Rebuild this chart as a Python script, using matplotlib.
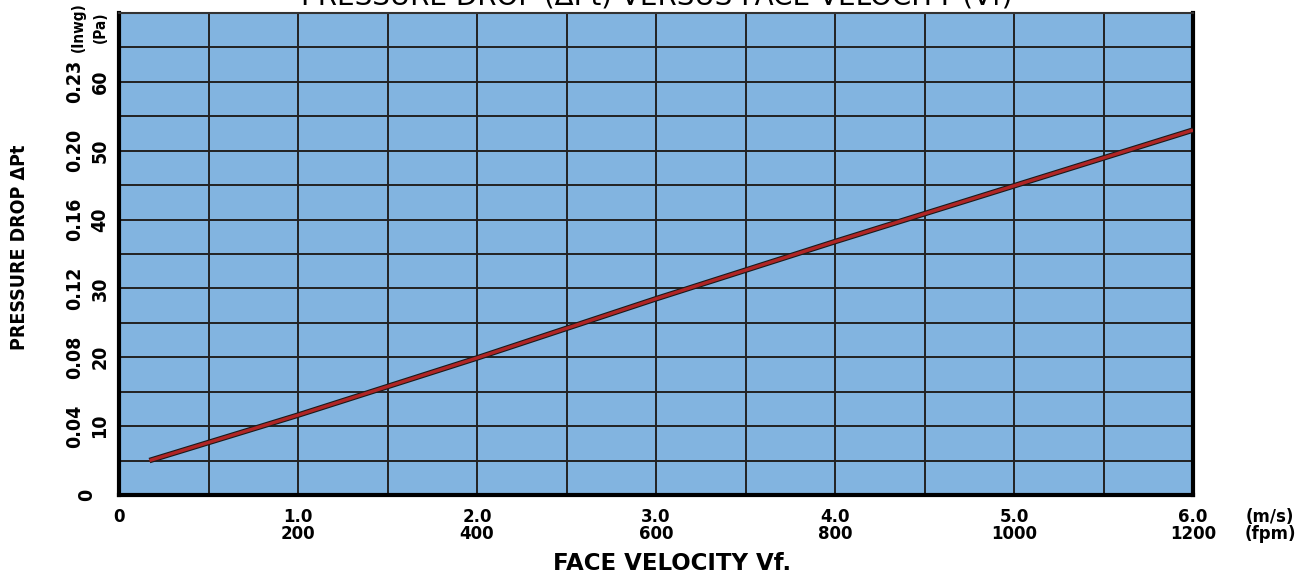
import numpy as np
import matplotlib
matplotlib.use("Agg")
import matplotlib.pyplot as plt
import matplotlib.patheffects as pe
import matplotlib.transforms as mtransforms

# datos
velocity_ms = [0.17, 1.0, 2.0, 3.0, 4.0, 5.0, 6.0]
pressure_pa = [5.0, 11.6, 19.9, 28.5, 36.8, 44.9, 53.0]

x_ticks_ms = [1.0, 2.0, 3.0, 4.0, 5.0, 6.0]
x_labels_ms = ["1.0", "2.0", "3.0", "4.0", "5.0", "6.0"]
x_labels_fpm = ["200", "400", "600", "800", "1000", "1200"]

y_ticks_pa = [10, 20, 30, 40, 50, 60]
y_labels_pa = ["10", "20", "30", "40", "50", "60"]
y_labels_inwg = ["0.04", "0.08", "0.12", "0.16", "0.20", "0.23"]

fig = plt.figure(figsize=(13.1, 5.72), dpi=100)
ax = fig.add_axes([119 / 1310, 1 - 495 / 572, (1193 - 119) / 1310, (495 - 13) / 572])
ax.set_facecolor("#82b4e0")

ax.set_xlim(0, 6)
ax.set_ylim(0, 70)
ax.set_xticks(np.arange(0, 6.01, 0.5))
ax.set_yticks(np.arange(0, 70.1, 5))
ax.tick_params(length=0, labelbottom=False, labelleft=False)
ax.grid(True, color="#222222", linewidth=1.4)
ax.set_axisbelow(True)

for s in ["left", "bottom", "right"]:
    ax.spines[s].set_linewidth(3)
    ax.spines[s].set_color("black")
ax.spines["top"].set_linewidth(1.5)
ax.spines["top"].set_color("#333333")

# linea de caida de presion
ax.plot(velocity_ms, pressure_pa, color="#b02525", linewidth=2.4,
        path_effects=[pe.Stroke(linewidth=4.0, foreground="#1a1a1a"), pe.Normal()],
        solid_capstyle="butt", zorder=3)

xfont = dict(fontfamily="DejaVu Sans", fontweight="bold", fontsize=12)
yfont = dict(fontfamily="DejaVu Sans", fontstretch="condensed",
             fontweight="bold", fontsize=14)

# etiquetas eje x
tx = mtransforms.blended_transform_factory(ax.transData, fig.transFigure)
ax.text(0, 1 - 517 / 572, "0", transform=tx, ha="center", va="center", **xfont)
for x, a, b in zip(x_ticks_ms, x_labels_ms, x_labels_fpm):
    ax.text(x, 1 - 517 / 572, a, transform=tx, ha="center", va="center", **xfont)
    ax.text(x, 1 - 534 / 572, b, transform=tx, ha="center", va="center", **xfont)
fig.text(1270 / 1310, 1 - 517 / 572, "(m/s)", ha="center", va="center", **xfont)
fig.text(1270 / 1310, 1 - 534 / 572, "(fpm)", ha="center", va="center", **xfont)
fig.text(672 / 1310, 1 - 563 / 572, "FACE VELOCITY Vf.", ha="center", va="center",
         fontfamily="DejaVu Sans", fontweight="bold", fontsize=16.5)

# etiquetas eje y
ty = mtransforms.blended_transform_factory(fig.transFigure, ax.transData)
ax.text(87 / 1310, 0, "0", transform=ty, ha="center", va="center", rotation=90, **yfont)
for y, a, b in zip(y_ticks_pa, y_labels_pa, y_labels_inwg):
    ax.text(100 / 1310, y, a, transform=ty, ha="center", va="center", rotation=90, **yfont)
    ax.text(75 / 1310, y, b, transform=ty, ha="center", va="center", rotation=90, **yfont)
fig.text(100 / 1310, 1 - 27 / 572, "(Pa)", ha="center", va="center", rotation=90,
         **dict(yfont, fontsize=11))
fig.text(78 / 1310, 1 - 27 / 572, "(Inwg)", ha="center", va="center", rotation=90,
         **dict(yfont, fontsize=11))
fig.text(20 / 1310, 1 - 247 / 572, "PRESSURE DROP ΔPt", ha="center", va="center",
         rotation=90, **dict(yfont, fontsize=14))

# titulo (cortado arriba como en la imagen original)
fig.text(657 / 1310, 1 - 5 / 572, "PRESSURE DROP (ΔPt) VERSUS FACE VELOCITY (Vf)",
         ha="center", va="baseline", fontfamily="DejaVu Sans", fontsize=20)

fig.savefig("out.png", dpi=100)
